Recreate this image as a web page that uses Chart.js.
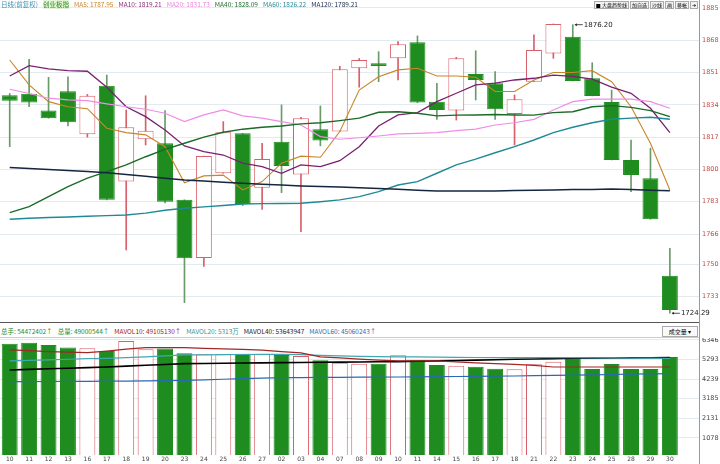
<!DOCTYPE html>
<html><head><meta charset="utf-8">
<script src="https://cdn.jsdelivr.net/npm/chart.js@4"></script>
<style>
body{margin:0;background:#fff;width:720px;height:464px;overflow:hidden;font-family:"Noto Sans CJK SC","Noto Sans",sans-serif;}
#top{position:absolute;left:0;top:0;width:720px;height:322px;}
#bot{position:absolute;left:0;top:338px;width:720px;height:126px;}
.hdr{position:absolute;font-size:6.5px;white-space:nowrap;line-height:9px;}
.hdr span{margin-right:5px;}
#sep{position:absolute;left:0;top:322px;width:699px;height:1px;background:#555;}
#sep2{position:absolute;left:0;top:337px;width:699px;height:1px;background:#ccc;}
#vline{position:absolute;left:699px;top:0;width:1px;height:464px;background:#999;}
#btns{position:absolute;right:22px;top:1px;font-size:5px;display:flex;gap:1px;}
#btns div{border:1px solid #aaa;background:#f2f2f2;padding:0 1px;line-height:6px;}
#volsel{position:absolute;left:662px;top:326px;width:34px;height:9px;border:1px solid #aaa;font-size:6px;line-height:9px;text-align:center;background:#fafafa;}
</style></head><body>
<div id="top"><canvas id="c1"></canvas></div>
<div id="bot"><canvas id="c2"></canvas></div>
<div id="sep"></div><div id="sep2"></div><div id="vline"></div>
<div class="hdr" style="left:1px;top:0px">
<span style="color:#3a8fb0">日线(前复权)</span><span style="color:#2a8a2a;background:#e6f5d8">创业板指</span><span style="color:#c8862a">MA5: 1787.95</span><span style="color:#8a2a7a">MA10: 1819.21</span><span style="color:#f080e0">MA20: 1831.73</span><span style="color:#1f6a2a">MA40: 1828.09</span><span style="color:#2a8a9a">MA60: 1826.22</span><span style="color:#1a2a4a">MA120: 1789.21</span>
</div>
<div id="btns"><div>■ 大盘趋势线</div><div>加自选</div><div>沙线</div><div>画</div><div>移帐</div><div>➔</div></div>
<div class="hdr" style="left:1px;top:327px">
<span style="color:#2a8a2a">总手: 54472402↑</span><span style="color:#2a8a2a">总量: 49000544↑</span><span style="color:#a02020">MAVOL10: 49105130↑</span><span style="color:#2a9aa0">MAVOL20: 5313万</span><span style="color:#222">MAVOL40: 53643947</span><span style="color:#2a6ab0">MAVOL60: 45060243↑</span>
</div>
<div id="volsel">成交量 ▾</div>
<script>
const labels=['10','11','12','13','16','17','18','19','20','23','24','25','26','27','02','03','04','07','08','09','10','11','14','15','16','17','18','21','22','23','24','25','28','29','30',''];
const opens=[1839.0,1839.9,1831.0,1841.2,1818.5,1844.0,1793.6,1815.9,1813.8,1784.0,1753.4,1798.0,1819.0,1790.4,1814.6,1797.4,1821.2,1820.0,1853.3,1855.9,1858.5,1866.9,1835.7,1831.0,1850.3,1845.4,1829.2,1846.2,1861.0,1869.9,1848.0,1835.5,1805.0,1795.4,1744.0];
const closes=[1836.2,1835.2,1827.0,1824.8,1838.8,1784.0,1822.2,1820.4,1783.0,1753.3,1807.1,1819.6,1781.8,1805.5,1801.8,1826.9,1815.2,1852.7,1857.6,1854.5,1865.9,1835.2,1831.3,1858.5,1847.1,1831.7,1837.0,1862.9,1876.6,1846.6,1838.7,1805.0,1797.1,1773.8,1726.0];
const highs=[1840.0,1858.0,1848.5,1848.8,1839.5,1849.7,1831.3,1838.8,1831.0,1784.0,1807.1,1825.2,1819.0,1813.8,1834.0,1827.5,1833.4,1854.3,1858.4,1862.0,1867.3,1870.3,1845.4,1859.0,1862.5,1851.5,1839.2,1870.8,1876.6,1876.2,1856.2,1841.8,1815.5,1811.2,1758.5];
const lows=[1812.0,1833.0,1827.0,1822.9,1817.0,1784.0,1757.6,1812.9,1782.4,1729.9,1748.9,1798.0,1781.0,1779.0,1787.8,1767.3,1812.4,1820.0,1843.3,1846.2,1847.1,1835.2,1826.4,1826.0,1836.6,1826.4,1812.9,1846.2,1858.5,1846.6,1838.7,1805.0,1788.3,1773.8,1724.29];
const ma5=[1857.6,1844.5,1835.7,1833.0,1832.0,1821.7,1819.4,1818.2,1812.0,1793.0,1796.6,1797.0,1789.2,1793.6,1803.3,1807.0,1806.4,1820.0,1841.8,1848.8,1852.4,1853.3,1849.2,1849.2,1848.5,1841.0,1841.0,1847.1,1851.0,1851.0,1852.0,1846.2,1833.0,1813.8,1789.2];
const ma10=[1849.2,1854.6,1852.9,1852.0,1851.7,1843.3,1833.0,1827.8,1820.8,1812.4,1809.4,1807.6,1803.3,1801.5,1798.0,1802.4,1801.5,1804.6,1812.0,1822.9,1828.7,1829.9,1835.7,1840.1,1844.5,1845.4,1847.1,1848.0,1849.7,1849.0,1847.5,1843.3,1840.1,1832.2,1819.4];
const ma20=[1842.2,1840.0,1837.5,1836.6,1836.2,1834.5,1833.0,1831.7,1829.6,1825.2,1828.7,1831.3,1828.2,1827.0,1825.2,1823.4,1817.3,1815.9,1816.7,1817.6,1818.7,1819.0,1819.4,1820.4,1821.2,1823.4,1824.6,1826.4,1831.3,1835.7,1837.0,1837.0,1837.0,1835.7,1832.2];
const ma40=[1777.3,1780.4,1785.7,1791.0,1795.4,1798.9,1802.4,1806.7,1810.6,1813.8,1817.0,1819.6,1821.2,1822.2,1822.9,1824.0,1824.6,1825.7,1827.0,1830.1,1830.4,1829.6,1828.2,1828.6,1828.7,1828.9,1828.7,1828.6,1829.9,1830.4,1833.0,1833.6,1832.7,1831.0,1827.8];
const ma60=[1773.8,1774.3,1774.7,1775.0,1775.4,1775.7,1776.0,1777.0,1778.5,1779.6,1780.3,1781.0,1781.8,1782.0,1782.1,1782.2,1783.0,1784.0,1785.7,1788.3,1791.8,1793.6,1798.0,1802.4,1805.4,1808.8,1812.0,1815.5,1819.4,1822.2,1824.6,1826.4,1827.0,1827.5,1826.4];
const ma120=[1801.0,1800.5,1800.0,1799.4,1798.9,1798.3,1797.4,1796.4,1795.4,1794.5,1793.9,1793.3,1792.7,1792.2,1791.8,1791.3,1791.0,1790.8,1790.4,1790.0,1789.6,1789.1,1788.7,1788.7,1788.7,1788.7,1788.9,1789.0,1789.2,1789.4,1789.5,1789.7,1789.4,1789.1,1788.8];
const priceTicks=[1885,1868,1851,1834,1817,1800,1783,1766,1750,1733];
const volumes=[6149,6203,6079,5936,5900,5757,6295,5846,5882,5631,5577,5577,5613,5577,5541,5488,5254,5129,5075,5075,5523,5254,5003,4967,4913,4806,4770,5039,5183,5434,4788,5057,4788,4788,5434];
const mavol10=[5811,5770,5720,5690,5667,5750,5850,5936,5936,5936,5900,5870,5846,5800,5721,5650,5434,5380,5320,5260,5219,5219,5219,5170,5120,5075,5030,4980,4895,4895,4895,4895,4895,4895,4895];
const mavol20=[5219,5250,5280,5310,5340,5362,5400,5440,5490,5541,5550,5560,5565,5570,5577,5560,5520,5488,5470,5450,5440,5434,5425,5415,5405,5398,5398,5398,5398,5398,5390,5380,5375,5370,5362];
const mavol40=[4734,4766,4798,4830,4862,4895,4940,4985,5030,5075,5086,5097,5108,5118,5129,5138,5147,5156,5165,5174,5183,5204,5225,5246,5266,5287,5308,5326,5344,5362,5369,5376,5383,5390,5398];
const mavol60=[4106,4110,4115,4120,4125,4130,4140,4150,4165,4178,4205,4235,4265,4295,4321,4327,4333,4339,4345,4351,4357,4366,4375,4384,4393,4402,4411,4427,4443,4459,4475,4491,4507,4522,4537];
const volTicks=[1078,2131,3185,4239,5293,6346];

const up=opens.map((o,i)=>closes[i]>=o);
const GREEN='#1e8c1e', RED='#d8606a';
const gridC='#e3ebf0';
const lineDS=(d,c,w)=>({type:'line',data:d,borderColor:c,borderWidth:w||1.2,pointRadius:0,order:0,tension:0});

const axisText=(color,showX)=>({id:'axisText',afterDraw(ch){
  const ctx=ch.ctx,y=ch.scales.y,x=ch.scales.x,a=ch.chartArea;
  ctx.save();ctx.font='6.5px "DejaVu Sans"';ctx.fillStyle=color;ctx.textBaseline='middle';ctx.textAlign='left';
  y.ticks.forEach(t=>ctx.fillText(String(t.value),a.right+3,y.getPixelForValue(t.value)));
  if(showX){ctx.font='6px "DejaVu Sans"';ctx.fillStyle='#444';ctx.textAlign='center';ctx.textBaseline='top';
    labels.forEach((l,i)=>{if(l)ctx.fillText(l,x.getPixelForValue(i),a.bottom+1.5);});}
  ctx.restore();}});

const annot={id:'annot',afterDatasetsDraw(ch){
  const x=ch.scales.x,y=ch.scales.y,ctx=ch.ctx;
  ctx.save();ctx.font='7px "DejaVu Sans"';ctx.fillStyle='#222';ctx.strokeStyle='#222';ctx.lineWidth=0.8;
  const mark=(i,v,txt)=>{const px=x.getPixelForValue(i),py=y.getPixelForValue(v);
    ctx.beginPath();ctx.moveTo(px+2,py);ctx.lineTo(px+10,py);ctx.stroke();
    ctx.beginPath();ctx.moveTo(px+2,py);ctx.lineTo(px+4,py-1.5);ctx.lineTo(px+4,py+1.5);ctx.fill();
    ctx.textBaseline='middle';ctx.fillText(txt,px+11,py);};
  mark(29,highs[29],'1876.20');mark(34,lows[34],'1724.29');
  ctx.restore();}};

new Chart(document.getElementById('c1'),{type:'bar',
 data:{labels,datasets:[
  {data:lows.map((l,i)=>[l,highs[i]]),backgroundColor:up.map(u=>u?RED:'#6a9a6a'),barThickness:1,grouped:false,order:3},
  {data:opens.map((o,i)=>[o,closes[i]]),backgroundColor:up.map(u=>u?'#ffffff':GREEN),borderColor:up.map(u=>u?RED:GREEN),borderWidth:1,borderSkipped:false,barPercentage:0.82,categoryPercentage:1,grouped:false,order:2},
  lineDS(ma120,'#142640',1.5),lineDS(ma60,'#1f8a96',1.4),lineDS(ma40,'#1c6a28',1.4),lineDS(ma20,'#f08ce6',1.2),lineDS(ma10,'#7a2070',1.3),lineDS(ma5,'#c8862a',1.1)
 ]},
 options:{responsive:true,maintainAspectRatio:false,animation:false,layout:{padding:0},
  plugins:{legend:{display:false},tooltip:{enabled:false}},
  scales:{x:{display:false,offset:true,grid:{display:false}},
   y:{position:'right',min:1719.7,max:1889.2,afterFit:s=>{s.width=21;},
    afterBuildTicks:s=>{s.ticks=priceTicks.map(v=>({value:v}));},
    ticks:{display:false},
    grid:{color:gridC,drawTicks:false},border:{display:false}}}},
 plugins:[annot,axisText('#c04848',false)]});

new Chart(document.getElementById('c2'),{type:'bar',
 data:{labels,datasets:[
  {data:volumes,backgroundColor:up.map(u=>u?'#ffffff':GREEN),borderColor:up.map(u=>u?RED:GREEN),borderWidth:1,borderSkipped:false,barPercentage:0.82,categoryPercentage:1,order:2},
  lineDS(mavol10,'#a02828',1.2),lineDS(mavol20,'#40a8b0',1.2),lineDS(mavol40,'#000000',1.6),lineDS(mavol60,'#2a6ab0',1.2)
 ]},
 options:{responsive:true,maintainAspectRatio:false,animation:false,layout:{padding:{bottom:9}},
  plugins:{legend:{display:false},tooltip:{enabled:false}},
  scales:{x:{display:false,offset:true,grid:{display:false}},
   y:{position:'right',min:164,max:6453,afterFit:s=>{s.width=21;},
    afterBuildTicks:s=>{s.ticks=volTicks.map(v=>({value:v}));},
    ticks:{display:false},
    grid:{color:gridC,drawTicks:false},border:{display:false}}}},
 plugins:[axisText('#444',true)]});
</script></body></html>
